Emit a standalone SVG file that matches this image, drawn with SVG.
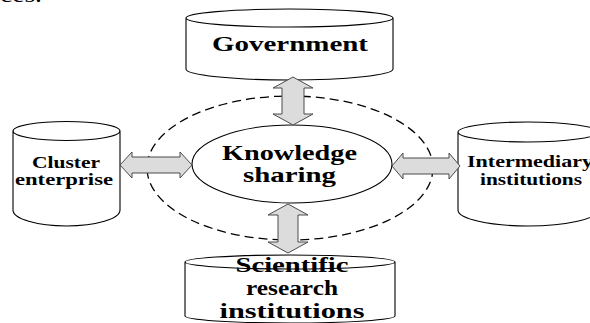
<svg xmlns="http://www.w3.org/2000/svg" width="590" height="323" viewBox="0 0 590 323">
<style>
.cyl{fill:#fff;stroke:#000;stroke-width:1.1}
.arr{fill:#dcdcdc;stroke:#4a4a4a;stroke-width:1}
.t{font-family:"Liberation Serif","Times New Roman",serif;font-weight:bold;fill:#000;text-anchor:middle}
.dash{fill:none;stroke:#000;stroke-width:1.3;stroke-dasharray:9 5}
</style>
<rect width="590" height="323" fill="#fff"/>
<text x="0" y="2" style="font-family:'Liberation Serif',serif;font-size:20px" textLength="42" lengthAdjust="spacingAndGlyphs">ces.</text>
<g id="boundary">
<ellipse class="dash" cx="290" cy="168" rx="143" ry="72"/>
</g>
<g id="government">
<path class="cyl" d="M186,18 L186,69 A103.5,11 0 0 0 393,69 L393,18 A103.5,9 0 0 0 186,18 A103.5,9 0 0 0 393,18"/>
<text class="t" x="290" y="51" style="font-size:22px" textLength="156" lengthAdjust="spacingAndGlyphs">Government</text>
</g>
<g id="cluster">
<path class="cyl" d="M13,131 L13,210 A53.5,16 0 0 0 120,210 L120,131 A53.5,9.5 0 0 0 13,131 A53.5,9.5 0 0 0 120,131"/>
<text class="t" x="66" y="168" style="font-size:17px" textLength="68" lengthAdjust="spacingAndGlyphs">Cluster</text>
<text class="t" x="64" y="185" style="font-size:17px" textLength="98" lengthAdjust="spacingAndGlyphs">enterprise</text>
</g>
<g id="intermediary">
<path class="cyl" d="M458,132 L458,210 A70,16 0 0 0 598,210 L598,132 A70,10 0 0 0 458,132 A70,10 0 0 0 598,132"/>
<text class="t" x="530" y="167" style="font-size:17px" textLength="126" lengthAdjust="spacingAndGlyphs">Intermediary</text>
<text class="t" x="531" y="185" style="font-size:17px" textLength="102" lengthAdjust="spacingAndGlyphs">institutions</text>
</g>
<g id="scientific">
<path class="cyl" d="M185,262 L185,316 A105,7 0 0 0 395,316 L395,262 A105,7 0 0 0 185,262 A105,7 0 0 0 395,262"/>
<text class="t" x="292" y="272" style="font-size:21px" textLength="113" lengthAdjust="spacingAndGlyphs">Scientific</text>
<text class="t" x="292" y="295" style="font-size:21px" textLength="92" lengthAdjust="spacingAndGlyphs">research</text>
<text class="t" x="292" y="318" style="font-size:21px" textLength="145" lengthAdjust="spacingAndGlyphs">institutions</text>
</g>
<g id="knowledge">
<ellipse cx="292" cy="164" rx="100" ry="39" fill="#fff" stroke="#000" stroke-width="1.1"/>
<text class="t" x="289.5" y="160" style="font-size:22px" textLength="135" lengthAdjust="spacingAndGlyphs">Knowledge</text>
<text class="t" x="289.5" y="182" style="font-size:22px" textLength="93" lengthAdjust="spacingAndGlyphs">sharing</text>
</g>
<g id="connectors">
<polygon class="arr" points="293,77 313,88 304,88 304,114 313,114 293,125 273,114 282,114 282,88 273,88"/>
<polygon class="arr" points="288,204 308,215 298,215 298,242 308,242 288,253 268,242 278,242 278,215 268,215"/>
<polygon class="arr" points="120,165 132,152 132,157 180,157 180,152 192,165 180,178 180,173 132,173 132,178"/>
<polygon class="arr" points="392,166 403,153 403,158 449,158 449,153 460,166 449,179 449,174 403,174 403,179"/>
</g>
</svg>
